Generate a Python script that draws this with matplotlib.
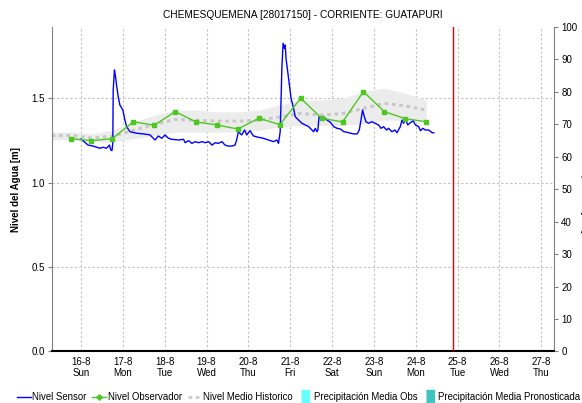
import numpy as np
import matplotlib
matplotlib.use("Agg")
import matplotlib.pyplot as plt
from matplotlib.lines import Line2D

plt.rcParams['font.family'] = ['Liberation Sans', 'DejaVu Sans']

# time axis: days since 16-8 00:00
day_labels = ['16-8', '17-8', '18-8', '19-8', '20-8', '21-8',
              '22-8', '23-8', '24-8', '25-8', '26-8', '27-8']
weekday_labels = ['Sun', 'Mon', 'Tue', 'Wed', 'Thu', 'Fri',
                  'Sat', 'Sun', 'Mon', 'Tue', 'Wed', 'Thu']

sensor_days = [0.00, 0.17, 0.29, 0.38, 0.45, 0.53, 0.61, 0.68, 0.71, 0.74,
               0.76, 0.77, 0.80, 0.82, 0.85, 0.89, 0.93, 1.00, 1.05, 1.09,
               1.17, 1.33, 1.49, 1.65, 1.77, 1.85, 1.93, 2.01, 2.09,
               2.17, 2.33, 2.45, 2.49, 2.57, 2.65, 2.73, 2.81, 2.89, 2.97,
               3.05, 3.13, 3.21, 3.28, 3.37, 3.44, 3.52, 3.61, 3.68, 3.72,
               3.76, 3.84, 3.91, 3.96, 4.04, 4.12, 4.24, 4.36, 4.48, 4.60,
               4.68, 4.72, 4.76, 4.78, 4.80, 4.83, 4.86, 4.88, 4.90, 4.94,
               4.98, 5.02, 5.08, 5.12, 5.20, 5.28, 5.36, 5.44, 5.52, 5.56,
               5.60, 5.64, 5.66, 5.69, 5.73, 5.77, 5.82, 5.88, 5.96, 6.04,
               6.12, 6.20, 6.28, 6.36, 6.44, 6.51, 6.60, 6.65, 6.69, 6.73,
               6.77, 6.81, 6.87, 6.95, 7.03, 7.11, 7.17, 7.23, 7.30, 7.35,
               7.43, 7.50, 7.55, 7.63, 7.67, 7.71, 7.75, 7.81, 7.85, 7.94,
               7.99, 8.07, 8.11, 8.17, 8.23, 8.31, 8.39, 8.43]
sensor_level = [1.259, 1.223, 1.217, 1.210, 1.204, 1.210, 1.204, 1.223, 1.194, 1.190,
                1.233, 1.549, 1.668, 1.638, 1.579, 1.509, 1.460, 1.431, 1.371, 1.332,
                1.302, 1.293, 1.289, 1.283, 1.253, 1.277, 1.263, 1.283, 1.263,
                1.257, 1.253, 1.257, 1.237, 1.249, 1.233, 1.243, 1.237, 1.243, 1.237,
                1.243, 1.223, 1.237, 1.233, 1.243, 1.223, 1.217, 1.217, 1.223, 1.253,
                1.302, 1.283, 1.312, 1.283, 1.308, 1.277, 1.269, 1.263, 1.253, 1.243,
                1.253, 1.233, 1.302, 1.480, 1.678, 1.826, 1.796, 1.816, 1.737, 1.658,
                1.579, 1.500, 1.441, 1.391, 1.371, 1.352, 1.342, 1.332, 1.312, 1.302,
                1.322, 1.302, 1.312, 1.391, 1.382, 1.371, 1.385, 1.371, 1.358, 1.332,
                1.322, 1.318, 1.302, 1.299, 1.293, 1.289, 1.289, 1.312, 1.371, 1.431,
                1.391, 1.361, 1.352, 1.361, 1.352, 1.342, 1.322, 1.332, 1.312, 1.322,
                1.302, 1.312, 1.296, 1.332, 1.371, 1.352, 1.376, 1.342, 1.352, 1.367,
                1.342, 1.332, 1.308, 1.322, 1.312, 1.312, 1.296, 1.296]

obs_days = [-0.25, 0.25, 0.75, 1.25, 1.75, 2.25, 2.75, 3.25, 3.75,
            4.25, 4.75, 5.25, 5.75, 6.25, 6.75, 7.25, 7.75, 8.25]
obs_level = [1.261, 1.249, 1.261, 1.361, 1.340, 1.421, 1.360, 1.342, 1.318,
             1.382, 1.344, 1.500, 1.382, 1.360, 1.539, 1.421, 1.379, 1.361]

hist_days = [-0.70, -0.25, 0.25, 0.75, 1.25, 1.75, 2.25, 2.75, 3.25, 3.75,
             4.25, 4.75, 5.25, 5.75, 6.25, 6.75, 7.25, 7.75, 8.25]
hist_mean = [1.28, 1.28, 1.265, 1.275, 1.31, 1.345, 1.375, 1.37, 1.365, 1.365,
             1.37, 1.39, 1.41, 1.40, 1.41, 1.44, 1.47, 1.455, 1.43]
hist_low = [1.255, 1.255, 1.24, 1.24, 1.26, 1.28, 1.30, 1.30, 1.30, 1.30,
            1.31, 1.33, 1.34, 1.34, 1.34, 1.35, 1.37, 1.37, 1.37]
hist_high = [1.30, 1.30, 1.29, 1.31, 1.36, 1.40, 1.43, 1.43, 1.42, 1.42,
             1.43, 1.46, 1.49, 1.49, 1.50, 1.54, 1.56, 1.53, 1.49]

now_day = 8.9

fig = plt.figure(figsize=(5.82, 4.03), dpi=100)
ax = fig.add_axes([0.0888, 0.1278, 0.8636, 0.8059])

ax.fill_between(hist_days, hist_low, hist_high, color='#ececec', lw=0, zorder=1)
ax.plot(hist_days, hist_mean, color='#c8c8c8', lw=2.2, ls=(0, (1.2, 1.2)), zorder=2)
ax.plot(sensor_days, sensor_level, color='#0000ff', lw=1, zorder=3)
ax.plot(obs_days, obs_level, color='#4ec720', lw=1, marker='s', ms=3, zorder=4)
ax.axvline(now_day, color='#e00000', lw=1, zorder=5)

ax.set_xlim(-0.70, 11.31)
ax.set_ylim(0, 1.924)
ax.set_xticks(range(len(day_labels)))
ax.set_xticklabels([f'{d}\n{w}' for d, w in zip(day_labels, weekday_labels)],
                   fontsize=7, linespacing=1.1)
ax.set_yticks([0.0, 0.5, 1.0, 1.5])
ax.set_yticklabels(['0.0', '0.5', '1.0', '1.5'], fontsize=7)
ax.tick_params(axis='x', length=0, pad=4)
ax.tick_params(axis='y', length=3, width=0.8, color='#808080', pad=2)

ax.grid(True, color='#c0c0c0', ls=(0, (2, 2)), lw=0.8)
ax.set_axisbelow(True)

ax.spines['top'].set_visible(False)
ax.spines['left'].set_color('#808080')
ax.spines['right'].set_color('#808080')
ax.spines['bottom'].set_color('black')
ax.spines['bottom'].set_linestyle((0, (1, 1)))
ax.spines['bottom'].set_linewidth(1.5)

ax.set_ylabel('Nivel del Agua [m]', fontsize=7, fontweight='bold')
ax.yaxis.set_label_coords(-0.061, 0.5)
ax.set_title('CHEMESQUEMENA [28017150] - CORRIENTE: GUATAPURI', fontsize=7.3, pad=6)

# precipitation axis on the right
ax2 = ax.twinx()
ax2.set_ylim(0, 100)
ax2.set_yticks(range(0, 101, 10))
ax2.tick_params(axis='y', length=3, width=0.8, color='#808080', labelsize=7, pad=2)
for s in ax2.spines.values():
    s.set_visible(False)
fig.text(580 / 582, 0.52, 'Precipitación [mm]', rotation=270, fontsize=7,
         ha='left', va='center')

box = [(-0.3, -0.5), (0.3, -0.5), (0.3, 0.5), (-0.3, 0.5)]
handles = [
    Line2D([], [], color='#0000ff', lw=1),
    Line2D([], [], color='#4ec720', lw=1, marker='P', ms=3.5),
    Line2D([], [], color='#d0d0d0', lw=2.2, ls=(0, (1.2, 1.2))),
    Line2D([], [], color='#66ffff', marker=box, ms=10, ls='none'),
    Line2D([], [], color='#40c4c0', marker=box, ms=10, ls='none'),
]
labels = ['Nivel Sensor', 'Nivel Observador', 'Nivel Medio Historico',
          'Precipitación Media Obs', 'Precipitación Media Pronosticada']
fig.legend(handles, labels, loc='center left', bbox_to_anchor=(17 / 582, 1 - 397 / 403),
           ncol=5, frameon=False, fontsize=6.9, handlelength=1.45, handletextpad=0.15,
           columnspacing=0.6, borderaxespad=0, borderpad=0)

fig.savefig('out.png', dpi=100)
